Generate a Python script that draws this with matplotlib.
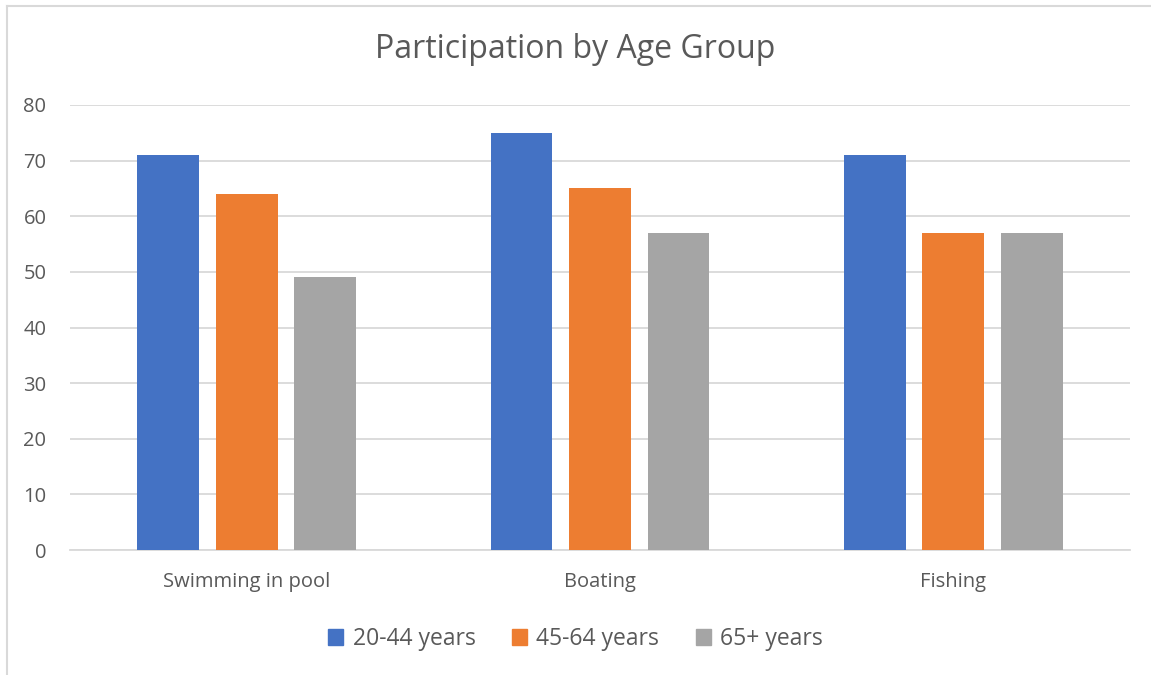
import numpy as np
from matplotlib import pyplot as plt
from matplotlib.lines import Line2D

# -- data --

categories = ["Swimming in pool", "Boating", "Fishing"]
series_names = ["20-44 years", "45-64 years", "65+ years"]
young = [71, 75, 71]
middle = [64, 65, 57]
senior = [49, 57, 57]
colors = ["#4472C4", "#ED7D31", "#A5A5A5"]
y_ticks = [0, 10, 20, 30, 40, 50, 60, 70, 80]

# -- figure --

plt.rcParams['font.family'] = ['Open Sans', 'DejaVu Sans']
text_color = "#595959"

fig = plt.figure(figsize=(11.51, 6.75), dpi=100)
ax = fig.add_axes([70 / 1151, 1 - 550 / 675, 1060 / 1151, 445 / 675])

x = np.arange(len(categories))
width = 0.175
step = 0.222
for i, (vals, name) in enumerate(zip([young, middle, senior], series_names)):
    ax.bar(x + (i - 1) * step, vals, width=width, color=colors[i], label=name, zorder=3)

ax.set_xlim(-0.5, len(categories) - 0.5)
ax.set_ylim(0, 80)
ax.set_yticks(y_ticks)
ax.set_xticks(x)
ax.set_xticklabels(categories)
ax.grid(axis="y", color="#D9D9D9", linewidth=1.3, zorder=0)
for side in ["top", "right", "left"]:
    ax.spines[side].set_visible(False)
ax.spines["bottom"].set_color("#D9D9D9")
ax.spines["bottom"].set_linewidth(1.3)
ax.tick_params(axis="both", length=0, labelsize=14.5, colors=text_color)
ax.tick_params(axis="y", pad=17)
ax.tick_params(axis="x", pad=16)

fig.text(0.5, 1 - 50 / 675, "Participation by Age Group", ha="center", va="center",
         fontsize=23, color=text_color)

handles = [plt.Rectangle((0, 0), 1, 1, color=c) for c in colors]
fig.legend(handles, series_names, loc="center", bbox_to_anchor=(0.5, 1 - 639 / 675),
           ncol=3, frameon=False, fontsize=16.5, labelcolor=text_color,
           handlelength=0.65, handleheight=0.65, handletextpad=0.4, columnspacing=1.6)

# chart border (left and top edges visible)
fig.add_artist(Line2D([7 / 1151, 7 / 1151], [0, 1 - 6 / 675], color="#D9D9D9", linewidth=1.5))
fig.add_artist(Line2D([7 / 1151, 1], [1 - 6 / 675, 1 - 6 / 675], color="#D9D9D9", linewidth=1.5))

fig.savefig("out.png", dpi=100)
